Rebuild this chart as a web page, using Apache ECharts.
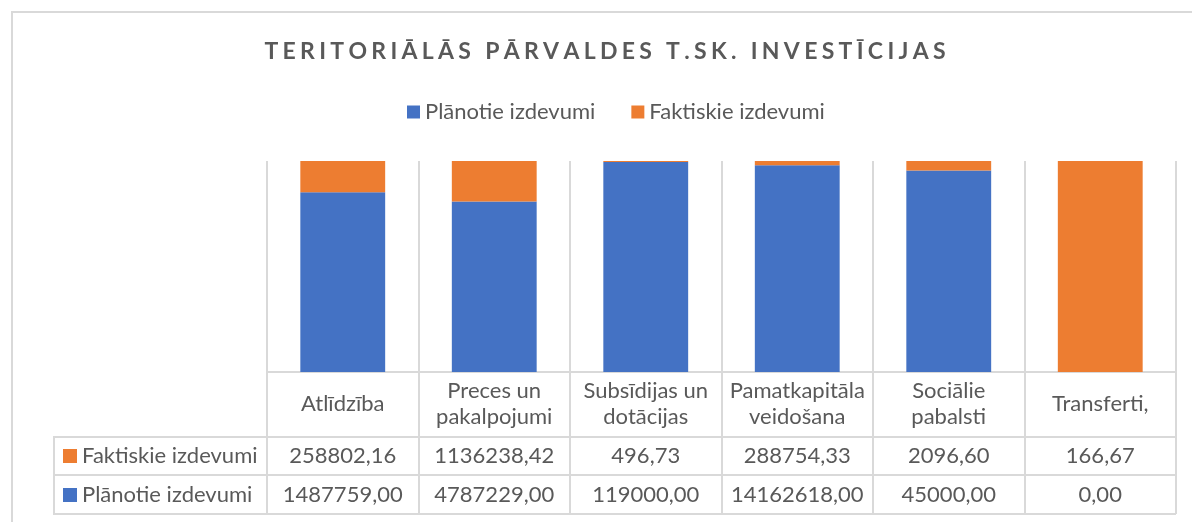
<!DOCTYPE html>
<html>
<head>
<meta charset="utf-8">
<script src="https://cdn.jsdelivr.net/npm/echarts@6/dist/echarts.min.js"></script>
<style>
  html, body { margin: 0; padding: 0; background: #ffffff; }
  #chart { width: 1192px; height: 522px; }
</style>
</head>
<body>
<div id="chart"></div>
<script>
// dati
var categories = ['Atlīdzība', 'Preces un\npakalpojumi', 'Subsīdijas un\ndotācijas', 'Pamatkapitāla\nveidošana', 'Sociālie\npabalsti', 'Transferti,'];
var planoti = [1487759.00, 4787229.00, 119000.00, 14162618.00, 45000.00, 0.00];
var faktiski = [258802.16, 1136238.42, 496.73, 288754.33, 2096.60, 166.67];

var titleText = 'TERITORIĀLĀS PĀRVALDES T.SK. INVESTĪCIJAS';
var gray = '#d9d9d9';
var txt = '#595959';
var font = 'Lato';

// 100% stacked -> procenti no kopsummas
var planPct = planoti.map(function (v, i) { return v / (v + faktiski[i]) * 100; });
var faktPct = faktiski.map(function (v, i) { return v / (planoti[i] + v) * 100; });

function fmt(v) {
    return v.toFixed(2).replace('.', ',');
}

// letter spacing imitacija
function spaced(s) {
    return s.split('').join('\u2009\u200A');
}

var chart = echarts.init(document.getElementById('chart'));

option = {
    backgroundColor: '#FFFFFF',
    animation: false,
    textStyle: { fontFamily: font },
    legend: {
        top: 96,
        left: 402,
        itemWidth: 13,
        itemHeight: 13,
        itemGap: 36,
        icon: 'rect',
        textStyle: { color: txt, fontSize: 22, fontFamily: font },
        data: ['Plānotie izdevumi', 'Faktiskie izdevumi']
    },
    grid: {
        left: 267,
        right: 16,
        top: 161,
        bottom: 150,
        containLabel: false
    },
    yAxis: {
        type: 'value',
        min: 0,
        max: 100,
        show: false
    },
    xAxis: [{
        type: 'category',
        data: categories,
        axisLine: { show: true, lineStyle: { color: gray, width: 2 } },
        axisTick: { show: true, length: 142, lineStyle: { color: gray, width: 2 } },
        splitLine: { show: true, lineStyle: { color: gray, width: 2 } },
        axisLabel: {
            interval: 0,
            margin: 32,
            verticalAlign: 'middle',
            lineHeight: 26,
            color: txt,
            fontSize: 22,
            fontFamily: font
        }
    }, {
        type: 'category',
        position: 'bottom',
        data: faktiski.map(fmt),
        axisLine: { show: false },
        axisTick: { show: false },
        axisLabel: {
            interval: 0,
            margin: 84,
            verticalAlign: 'middle',
            color: txt,
            fontSize: 22,
            fontFamily: font
        }
    }, {
        type: 'category',
        position: 'bottom',
        data: planoti.map(fmt),
        axisLine: { show: false },
        axisTick: { show: false },
        axisLabel: {
            interval: 0,
            margin: 123,
            verticalAlign: 'middle',
            color: txt,
            fontSize: 22,
            fontFamily: font
        }
    }],
    series: [{
        name: 'Plānotie izdevumi',
        type: 'bar',
        stack: 'kopa',
        xAxisIndex: 0,
        barWidth: '56%',
        data: planPct,
        itemStyle: { color: '#4472C4' }
    }, {
        name: 'Faktiskie izdevumi',
        type: 'bar',
        stack: 'kopa',
        xAxisIndex: 0,
        barWidth: '56%',
        data: faktPct,
        itemStyle: { color: '#ED7D31' }
    }],
    graphic: [
        // diagrammas rāmis
        { type: 'rect', shape: { x: 12, y: 12, width: 1200, height: 530 }, style: { fill: 'none', stroke: gray, lineWidth: 2 }, silent: true },
        // virsraksts
        { type: 'text', x: 605, y: 52, style: { text: spaced(titleText), font: 'bold 23px Lato', fill: txt, align: 'center', verticalAlign: 'middle' } },
        // tabulas līnijas
        { type: 'line', shape: { x1: 54, y1: 437, x2: 1176, y2: 437 }, style: { stroke: gray, lineWidth: 2 } },
        { type: 'line', shape: { x1: 54, y1: 475, x2: 1176, y2: 475 }, style: { stroke: gray, lineWidth: 2 } },
        { type: 'line', shape: { x1: 54, y1: 514, x2: 1176, y2: 514 }, style: { stroke: gray, lineWidth: 2 } },
        { type: 'line', shape: { x1: 54, y1: 436, x2: 54, y2: 515 }, style: { stroke: gray, lineWidth: 2 } },
        // rindu virsraksti
        { type: 'rect', shape: { x: 63, y: 449, width: 14, height: 14 }, style: { fill: '#ED7D31' } },
        { type: 'text', x: 82, y: 456, style: { text: 'Faktiskie izdevumi', font: '22px Lato', fill: txt, verticalAlign: 'middle' } },
        { type: 'rect', shape: { x: 63, y: 488, width: 14, height: 14 }, style: { fill: '#4472C4' } },
        { type: 'text', x: 82, y: 495, style: { text: 'Plānotie izdevumi', font: '22px Lato', fill: txt, verticalAlign: 'middle' } }
    ]
};

chart.setOption(option);
</script>
</body>
</html>
